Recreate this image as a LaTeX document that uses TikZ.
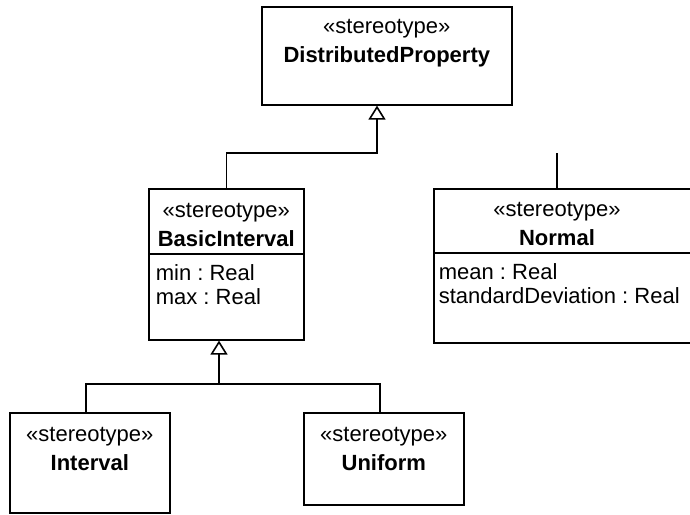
\documentclass[tikz,border=0pt]{standalone}
\usepackage{fontspec}
\setmainfont{Liberation Sans}
\usetikzlibrary{arrows.meta,calc}
\frenchspacing

\begin{document}
\begin{tikzpicture}[x=1pt, y=-1pt, line width=1.6pt,
  umlbox/.style={draw, rectangle, anchor=north west, inner sep=0pt},
  hdr/.style={align=center, inner sep=0pt, font=\fontsize{22}{29}\selectfont},
  attr/.style={align=left, anchor=north west, inner sep=0pt, font=\fontsize{22}{24}\selectfont},
  gen/.style={-{Triangle[open, length=14pt, width=17pt]}}]
  % 画布
  \useasboundingbox (0,0) rectangle (690,514);
  \clip (0,0) rectangle (690,514);

  % 类框
  \node[umlbox, minimum width=250pt, minimum height=98pt] (dp) at (261,6) {};
  \node[umlbox, minimum width=155pt, minimum height=151pt] (bi) at (148,188) {};
  \node[umlbox, minimum width=270pt, minimum height=154pt] (nm) at (433,188) {};
  \node[umlbox, minimum width=160pt, minimum height=100pt] (iv) at (9,412) {};
  \node[umlbox, minimum width=160pt, minimum height=92pt] (un) at (303,412) {};

  % 名称
  \node[hdr] (dptxt) at ($(dp.north)+(0,37)$) {«stereotype»\\\textbf{DistributedProperty}};
  \node[hdr] (bitxt) at ($(bi.north)+(0,37)$) {«stereotype»\\\textbf{BasicInterval}};
  \node[hdr] (nmtxt) at ($(nm.north west)+(124,36)$) {«stereotype»\\\textbf{Normal}};
  \node[hdr] (ivtxt) at ($(iv.north)+(0,37)$) {«stereotype»\\\textbf{Interval}};
  \node[hdr] (untxt) at ($(un.north)+(0,37)$) {«stereotype»\\\textbf{Uniform}};

  % 属性栏
  \draw ($(bi.north west)+(0,66)$) -- ($(bi.north east)+(0,66)$);
  \draw ($(nm.north west)+(0,65)$) -- ($(nm.north east)+(0,65)$);
  \node[attr] (biattr) at ($(bi.north west)+(7,76)$) {min : Real\\max : Real};
  \node[attr] (nmattr) at ($(nm.north west)+(5,75)$) {mean : Real\\standardDeviation : Real};

  % 泛化
  \coordinate (dpjoin) at (377,153);
  \draw[gen] (bi.north) |- (dpjoin) -- (dpjoin |- dp.south);
  \coordinate (nmend) at (557,153);
  \draw (nmend |- nm.north) -- (nmend);
  \coordinate (bijoin) at (219,384);
  \draw[gen] ([xshift=-4pt]iv.north) |- (bijoin) -- (bijoin |- bi.south);
  \draw ([xshift=-4pt]un.north) |- (bijoin);
\end{tikzpicture}
\end{document}
